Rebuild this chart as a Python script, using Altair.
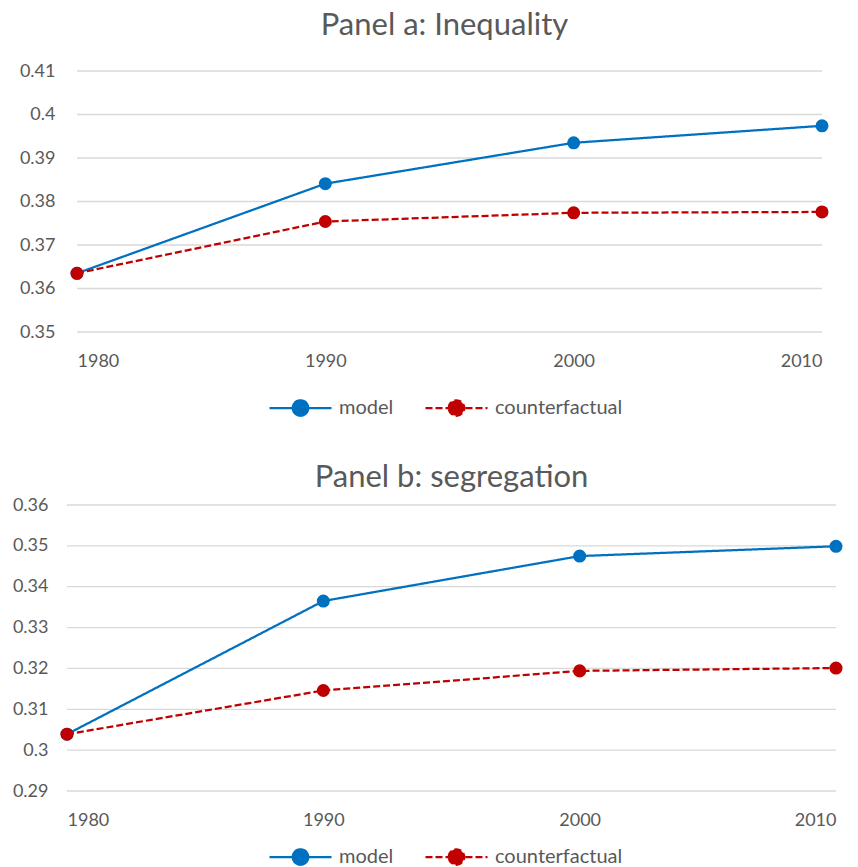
import altair as alt
import pandas as pd

years = [1980, 1990, 2000, 2010]
series_names = ["model", "counterfactual"]
series_colors = ["#0070C0", "#C00000"]

ineq_model = [0.3635, 0.3841, 0.3935, 0.3974]
ineq_cf = [0.3635, 0.3754, 0.3774, 0.3776]

seg_model = [0.3039, 0.3365, 0.3475, 0.3499]
seg_cf = [0.3039, 0.3146, 0.3194, 0.3201]

ineq_ticks = [0.35, 0.36, 0.37, 0.38, 0.39, 0.40, 0.41]
seg_ticks = [0.29, 0.30, 0.31, 0.32, 0.33, 0.34, 0.35, 0.36]

FONT = "Lato"
TXT = "#595959"
SYMBOL = "M-1,0L1,0M-0.25,0A0.25,0.25,0,1,1,0.25,0A0.25,0.25,0,1,1,-0.25,0Z"


def panel(title, model, cf, ticks, width, x_range, y_height, label_pad, min_ext,
          x_label_pad, leg_x, leg_y, title_offset):
    df = pd.DataFrame({
        "year": years + years,
        "value": model + cf,
        "series": [series_names[0]] * len(years) + [series_names[1]] * len(years),
    })
    grid_df = pd.DataFrame({"value": ticks})
    legend = alt.Legend(
        title=None, orient="none", direction="horizontal",
        legendX=leg_x, legendY=leg_y,
        symbolType=SYMBOL, symbolSize=3844, symbolStrokeWidth=2.25,
        clipHeight=22, labelFont=FONT, labelFontSize=20, labelColor=TXT,
        labelOffset=6, columnPadding=30,
    )
    xscale = alt.Scale(domain=[years[0], years[-1]], nice=False, zero=False, range=x_range)
    yscale = alt.Scale(domain=[ticks[0], ticks[-1]], nice=False, zero=False)
    x = alt.X("year:Q", title=None, scale=xscale,
              axis=alt.Axis(values=years, format="d", grid=False, domain=False,
                            ticks=False, tickSize=0, labelPadding=x_label_pad,
                            labelFont=FONT, labelFontSize=18, labelColor=TXT))
    y = alt.Y("value:Q", title=None, scale=yscale,
              axis=alt.Axis(values=ticks, format=".2~f", domain=False, ticks=False,
                            grid=False, tickSize=0, labelPadding=label_pad,
                            minExtent=min_ext,
                            labelFont=FONT, labelFontSize=18, labelColor=TXT))
    color = alt.Color("series:N", scale=alt.Scale(domain=series_names, range=series_colors),
                      legend=legend)
    dash = alt.StrokeDash("series:N",
                          scale=alt.Scale(domain=series_names, range=[[1, 0], [7, 3]]),
                          legend=legend)
    grid = alt.Chart(grid_df).mark_rule(color="#D9D9D9", strokeWidth=1.3).encode(
        y=y, x=alt.datum(years[0]), x2=alt.datum(years[-1]))
    lines = alt.Chart(df).mark_line(strokeWidth=2.25).encode(
        x=x, y=y, color=color, strokeDash=dash, detail="series:N")
    points = alt.Chart(df).mark_point(filled=True, size=170, opacity=1).encode(
        x=x, y=y, color=color)
    return alt.layer(grid, lines, points).properties(
        width=width, height=y_height,
        title=alt.TitleParams(title, font=FONT, fontSize=31, fontWeight="normal",
                              color=TXT, anchor="middle", offset=title_offset),
    )


pa = panel("Panel a: Inequality", ineq_model, ineq_cf, ineq_ticks,
           755, [10, 755], 261, 12, 30, 20, 201, 326, 20)
pb = panel("Panel b: segregation", seg_model, seg_cf, seg_ticks,
           769, [0, 769], 286, 19, 59, 20, 201, 341, 2)

chart = alt.concat(pa, pb, columns=1, spacing=43).properties(
    padding={"left": 0, "top": 2, "right": 0, "bottom": 0}
).configure_view(stroke=None).resolve_scale(color="independent", strokeDash="independent")

chart.save("out.html", embed_options={"renderer": "svg", "actions": False})
